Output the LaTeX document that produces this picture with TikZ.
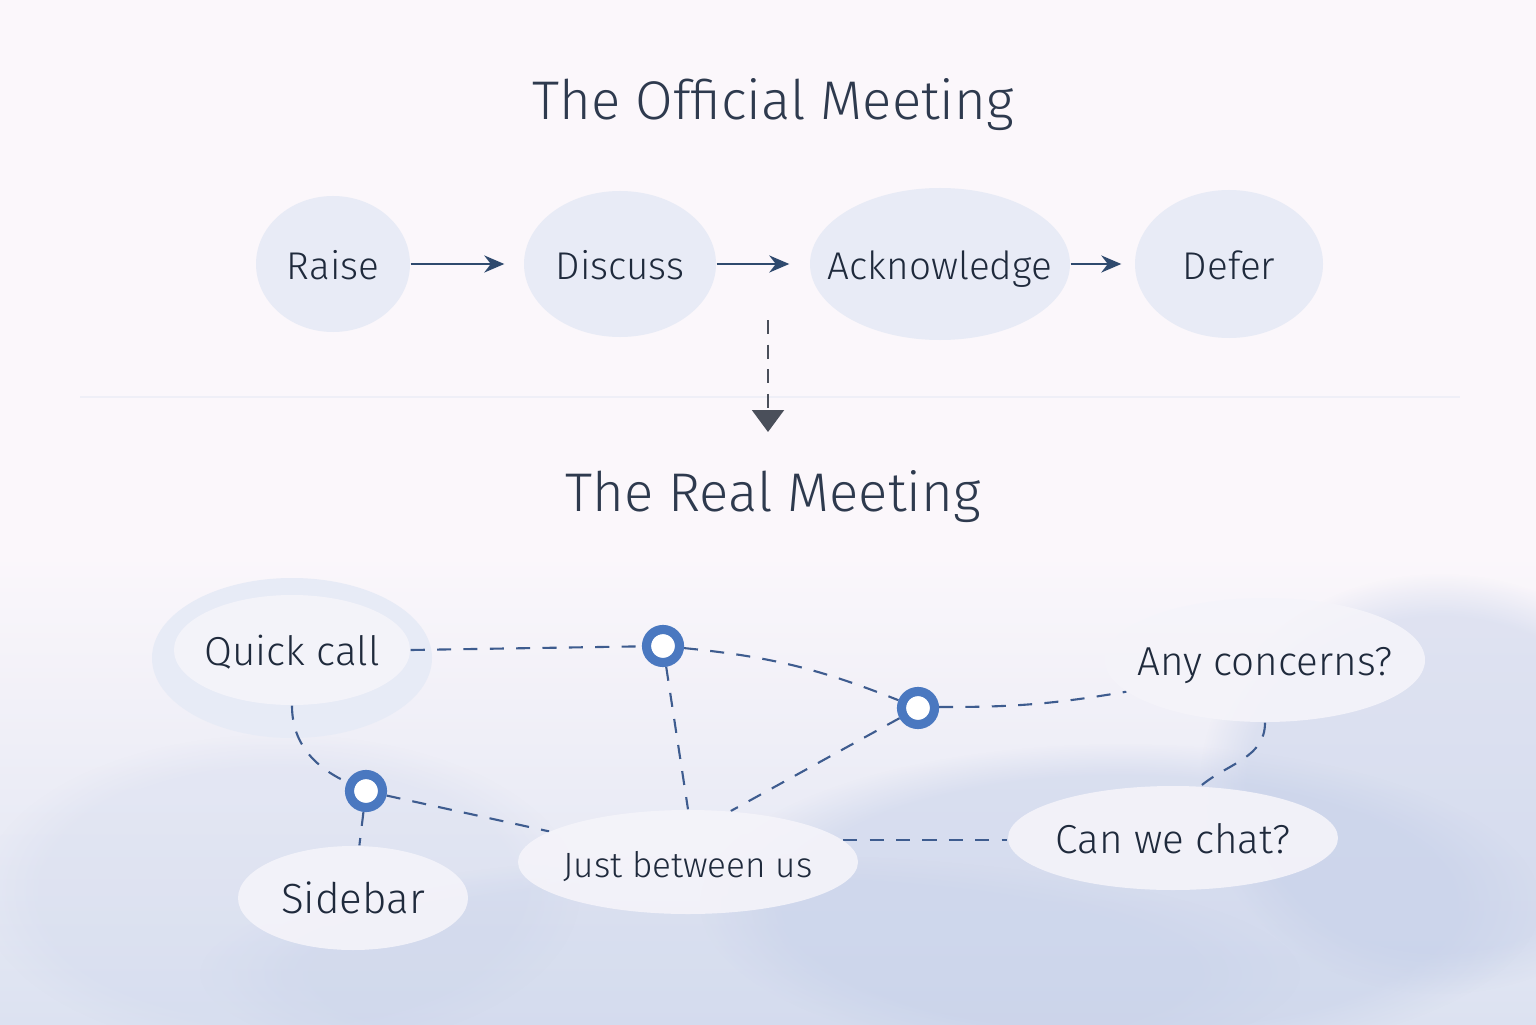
\documentclass[tikz,border=0pt]{standalone}
\usepackage{fontspec}
\setmainfont{Fira Sans}[UprightFont=* Light, BoldFont=*]
\usepackage{xcolor}
\usetikzlibrary{arrows.meta,shapes.geometric,fadings,calc}

\definecolor{paper}{HTML}{FBF7FB}
\definecolor{mist}{HTML}{DCE2F1}
\definecolor{cloud}{HTML}{C3CEE8}
\definecolor{stagefill}{HTML}{E8EBF6}
\definecolor{bubblefill}{HTML}{F5F4FA}
\definecolor{halofill}{HTML}{E7EBF6}
\definecolor{ink}{HTML}{1F2A3C}
\definecolor{titleink}{HTML}{2E3A4E}
\definecolor{flowline}{HTML}{2F4A6E}
\definecolor{linkline}{HTML}{3E5C8F}
\definecolor{hubblue}{HTML}{4A78C0}
\definecolor{dropgray}{HTML}{4A4F5A}

\pgfdeclarelayer{back}
\pgfdeclarelayer{links}
\pgfsetlayers{back,links,main}

\begin{document}
\begin{tikzpicture}[
    stage/.style={ellipse, fill=stagefill, inner sep=0pt},
    bubble/.style={ellipse, fill=bubblefill, fill opacity=0.9, inner sep=0pt},
    lbl/.style={text=ink, font=\fontsize{11}{13}\selectfont, text height=1.6ex, text depth=0.45ex, yshift=-1.5pt},
    biglbl/.style={lbl, font=\fontsize{11.5}{13}\selectfont},
    hub/.style={circle, draw=hubblue, line width=2.6pt, fill=white, minimum size=0.33cm, inner sep=0pt},
    arrow/.style={-{Stealth[length=2mm,width=1.7mm]}, flowline, line width=0.7pt},
    link/.style={dashed, dash pattern=on 4pt off 3.5pt, linkline, line width=0.6pt},
    title/.style={text=titleink, font=\fontsize{15.5}{19}\selectfont}
]
\useasboundingbox (0,0) rectangle (15.36,10.24);

% Background
\begin{pgfonlayer}{back}
\begin{scope}
\clip (0,0) rectangle (15.36,10.24);
\fill[paper] (0,0) rectangle (15.36,10.24);
\shade[top color=paper, bottom color=mist] (0,0) rectangle (15.36,4.7);
\fill[cloud, opacity=0.45, path fading=circle with fuzzy edge 20 percent] (14.4,2.4) ellipse (2.4 and 2.1);
\fill[cloud, opacity=0.45, path fading=circle with fuzzy edge 20 percent] (11.2,1.2) ellipse (4.2 and 1.6);
\fill[cloud, opacity=0.30, path fading=circle with fuzzy edge 20 percent] (7.5,0.5) ellipse (5.5 and 1.2);
\fill[cloud, opacity=0.20, path fading=circle with fuzzy edge 20 percent] (2.8,1.3) ellipse (3.0 and 1.6);
\end{scope}
\draw[paper!60!mist, line width=0.5pt] (0.8,6.27) -- (14.6,6.27);
\node[ellipse, fill=halofill, minimum width=2.80cm, minimum height=1.60cm] (halo) at (2.92,3.66) {};
\end{pgfonlayer}

% The official meeting
\node[title] (official) at (7.73,9.19) {The Official Meeting};

\node[stage, minimum width=1.54cm, minimum height=1.36cm, label={[lbl]center:Raise}] (raise) at (3.33,7.60) {};
\node[stage, minimum width=1.92cm, minimum height=1.46cm, label={[lbl]center:Discuss}] (discuss) at (6.20,7.60) {};
\node[stage, minimum width=2.60cm, minimum height=1.52cm, label={[lbl]center:Acknowledge}] (ack) at (9.40,7.60) {};
\node[stage, minimum width=1.88cm, minimum height=1.48cm, label={[lbl]center:Defer}] (defer) at (12.29,7.60) {};

\draw[arrow, shorten >=0.19cm] (raise) -- (discuss);
\draw[arrow, shorten >=0.20cm] (discuss) -- (ack);
\draw[arrow, shorten >=0.13cm] (ack) -- (defer);

% Drop to the real meeting
\coordinate (droptop) at (7.68,7.04);
\coordinate (dropend) at (7.68,5.92);
\draw[dropgray, dashed, dash pattern=on 4pt off 3pt, line width=0.6pt, -{Triangle[length=2.2mm,width=3.2mm]}] (droptop) -- (dropend);

% The real meeting
\node[title] (real) at (7.73,5.27) {The Real Meeting};

\node[bubble, minimum width=2.36cm, minimum height=1.10cm, label={[biglbl]center:Quick call}] (qc) at (2.92,3.74) {};
\node[bubble, minimum width=2.30cm, minimum height=1.04cm, label={[biglbl, font=\fontsize{12}{14}\selectfont]center:Sidebar}] (sb) at (3.53,1.26) {};
\node[bubble, minimum width=3.40cm, minimum height=1.04cm, label={[lbl, font=\fontsize{10}{12}\selectfont]center:Just between us}] (jbu) at (6.88,1.62) {};
\node[bubble, minimum width=3.20cm, minimum height=1.24cm, label={[biglbl]center:Any concerns?}] (ac) at (12.65,3.64) {};
\node[bubble, minimum width=3.30cm, minimum height=1.04cm, label={[biglbl]center:Can we chat?}] (cwc) at (11.73,1.86) {};

\node[hub] (j1) at (6.63,3.78) {};
\node[hub] (j2) at (9.18,3.16) {};
\node[hub] (j3) at (3.66,2.33) {};

% Side channels
\begin{pgfonlayer}{links}
\draw[link] (qc.east) -- (j1);
\draw[link] (j1) to[bend left=8] (j2);
\draw[link] (j2) to[bend right=5] (ac);
\draw[link] (j1) -- (jbu.north);
\draw[link] (j2) -- (jbu.50);
\draw[link] (qc.south) to[out=-90,in=155] (j3);
\draw[link] (j3) -- (jbu);
\draw[link] (j3) -- (sb);
\draw[link] (ac.south) to[out=-90,in=40] (cwc.62);
\draw[link] (jbu.8) -- (cwc.west |- jbu.8);
\end{pgfonlayer}

\end{tikzpicture}
\end{document}
